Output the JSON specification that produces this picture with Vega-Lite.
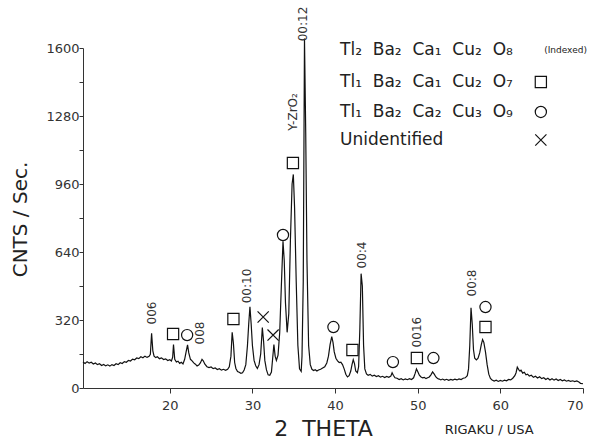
{
  "$schema": "https://vega.github.io/schema/vega-lite/v6.json",
  "width": 500,
  "height": 340,
  "autosize": {"type": "none"},
  "padding": {"left": 83, "top": 48, "right": 9, "bottom": 51},
  "background": "white",
  "config": {
    "view": {"stroke": null},
    "font": "DejaVu Sans",
    "axis": {
      "grid": false,
      "domainColor": "#333",
      "tickColor": "#333",
      "labelColor": "#333",
      "titleColor": "#222",
      "labelFont": "DejaVu Sans",
      "titleFont": "DejaVu Sans",
      "titleFontWeight": "normal",
      "labelFontSize": 13
    }
  },
  "datasets": {
    "trace": [
      {"t":9.5,"c":122},{"t":9.75,"c":115},{"t":10,"c":124},{"t":10.25,"c":117},{"t":10.5,"c":121},{"t":10.75,"c":113},{"t":11,"c":118},{"t":11.25,"c":110},{"t":11.5,"c":114},{"t":11.75,"c":106},{"t":12,"c":111},{"t":12.25,"c":104},{"t":12.5,"c":109},{"t":12.75,"c":103},{"t":13,"c":110},{"t":13.25,"c":106},{"t":13.5,"c":114},{"t":13.75,"c":110},{"t":14,"c":119},{"t":14.25,"c":115},{"t":14.5,"c":124},{"t":14.75,"c":121},{"t":15,"c":130},{"t":15.25,"c":127},{"t":15.5,"c":136},{"t":15.75,"c":133},{"t":16,"c":141},{"t":16.25,"c":138},{"t":16.5,"c":147},{"t":16.75,"c":142},{"t":17,"c":150},{"t":17.25,"c":144},{"t":17.5,"c":149},{"t":17.65,"c":158},{"t":17.8,"c":258},{"t":17.95,"c":175},{"t":18.1,"c":150},{"t":18.3,"c":143},{"t":18.5,"c":147},{"t":18.75,"c":138},{"t":19,"c":142},{"t":19.25,"c":134},{"t":19.5,"c":137},{"t":19.75,"c":129},{"t":20,"c":133},{"t":20.2,"c":127},{"t":20.35,"c":145},{"t":20.45,"c":205},{"t":20.6,"c":135},{"t":20.8,"c":122},{"t":21,"c":126},{"t":21.2,"c":116},{"t":21.4,"c":121},{"t":21.6,"c":113},{"t":21.8,"c":135},{"t":22,"c":175},{"t":22.15,"c":203},{"t":22.3,"c":165},{"t":22.5,"c":135},{"t":22.7,"c":128},{"t":22.9,"c":118},{"t":23.1,"c":112},{"t":23.3,"c":104},{"t":23.5,"c":108},{"t":23.7,"c":118},{"t":23.9,"c":135},{"t":24.05,"c":128},{"t":24.25,"c":112},{"t":24.5,"c":100},{"t":24.75,"c":96},{"t":25,"c":99},{"t":25.25,"c":91},{"t":25.5,"c":94},{"t":25.75,"c":87},{"t":26,"c":91},{"t":26.25,"c":84},{"t":26.5,"c":88},{"t":26.75,"c":83},{"t":27,"c":88},{"t":27.2,"c":100},{"t":27.4,"c":150},{"t":27.55,"c":262},{"t":27.7,"c":210},{"t":27.85,"c":120},{"t":28,"c":92},{"t":28.2,"c":78},{"t":28.4,"c":74},{"t":28.6,"c":69},{"t":28.8,"c":72},{"t":29,"c":85},{"t":29.2,"c":110},{"t":29.4,"c":200},{"t":29.55,"c":300},{"t":29.7,"c":382},{"t":29.85,"c":300},{"t":30,"c":200},{"t":30.2,"c":130},{"t":30.4,"c":105},{"t":30.6,"c":92},{"t":30.8,"c":110},{"t":31,"c":160},{"t":31.2,"c":284},{"t":31.35,"c":220},{"t":31.5,"c":130},{"t":31.7,"c":85},{"t":31.9,"c":62},{"t":32.1,"c":60},{"t":32.3,"c":75},{"t":32.45,"c":140},{"t":32.6,"c":204},{"t":32.75,"c":150},{"t":32.9,"c":130},{"t":33.1,"c":155},{"t":33.3,"c":260},{"t":33.5,"c":480},{"t":33.7,"c":690},{"t":33.85,"c":600},{"t":34,"c":400},{"t":34.2,"c":262},{"t":34.4,"c":350},{"t":34.6,"c":700},{"t":34.8,"c":960},{"t":34.95,"c":1005},{"t":35.1,"c":850},{"t":35.3,"c":500},{"t":35.5,"c":200},{"t":35.7,"c":90},{"t":35.9,"c":78},{"t":36,"c":150},{"t":36.15,"c":500},{"t":36.3,"c":1645},{"t":36.45,"c":1200},{"t":36.6,"c":600},{"t":36.8,"c":200},{"t":37,"c":110},{"t":37.2,"c":88},{"t":37.4,"c":82},{"t":37.6,"c":86},{"t":37.8,"c":80},{"t":38,"c":85},{"t":38.25,"c":88},{"t":38.5,"c":94},{"t":38.75,"c":100},{"t":39,"c":118},{"t":39.2,"c":150},{"t":39.4,"c":205},{"t":39.6,"c":242},{"t":39.75,"c":215},{"t":39.9,"c":170},{"t":40.1,"c":140},{"t":40.3,"c":128},{"t":40.5,"c":120},{"t":40.7,"c":122},{"t":40.9,"c":110},{"t":41.1,"c":90},{"t":41.3,"c":65},{"t":41.5,"c":52},{"t":41.7,"c":58},{"t":41.9,"c":80},{"t":42.05,"c":110},{"t":42.2,"c":133},{"t":42.35,"c":115},{"t":42.5,"c":80},{"t":42.7,"c":72},{"t":42.85,"c":100},{"t":43,"c":280},{"t":43.15,"c":538},{"t":43.3,"c":480},{"t":43.45,"c":200},{"t":43.6,"c":90},{"t":43.8,"c":66},{"t":44,"c":60},{"t":44.25,"c":64},{"t":44.5,"c":56},{"t":44.75,"c":60},{"t":45,"c":54},{"t":45.25,"c":58},{"t":45.5,"c":51},{"t":45.75,"c":55},{"t":46,"c":49},{"t":46.25,"c":54},{"t":46.5,"c":50},{"t":46.75,"c":56},{"t":46.9,"c":72},{"t":47.05,"c":60},{"t":47.25,"c":48},{"t":47.5,"c":46},{"t":47.75,"c":40},{"t":48,"c":44},{"t":48.25,"c":38},{"t":48.5,"c":43},{"t":48.75,"c":39},{"t":49,"c":44},{"t":49.25,"c":40},{"t":49.5,"c":48},{"t":49.7,"c":70},{"t":49.85,"c":90},{"t":50,"c":78},{"t":50.2,"c":60},{"t":50.4,"c":52},{"t":50.6,"c":48},{"t":50.8,"c":50},{"t":51,"c":44},{"t":51.2,"c":48},{"t":51.4,"c":52},{"t":51.6,"c":62},{"t":51.8,"c":76},{"t":52,"c":65},{"t":52.2,"c":52},{"t":52.4,"c":45},{"t":52.6,"c":42},{"t":52.8,"c":38},{"t":53,"c":42},{"t":53.25,"c":37},{"t":53.5,"c":41},{"t":53.75,"c":36},{"t":54,"c":40},{"t":54.25,"c":37},{"t":54.5,"c":42},{"t":54.75,"c":38},{"t":55,"c":43},{"t":55.25,"c":40},{"t":55.5,"c":46},{"t":55.75,"c":48},{"t":56,"c":58},{"t":56.15,"c":90},{"t":56.3,"c":200},{"t":56.45,"c":378},{"t":56.6,"c":300},{"t":56.75,"c":180},{"t":56.9,"c":140},{"t":57.1,"c":132},{"t":57.3,"c":140},{"t":57.5,"c":165},{"t":57.7,"c":205},{"t":57.85,"c":228},{"t":58,"c":215},{"t":58.2,"c":170},{"t":58.4,"c":110},{"t":58.6,"c":65},{"t":58.8,"c":45},{"t":59,"c":38},{"t":59.25,"c":33},{"t":59.5,"c":37},{"t":59.75,"c":31},{"t":60,"c":36},{"t":60.25,"c":32},{"t":60.5,"c":37},{"t":60.75,"c":34},{"t":61,"c":40},{"t":61.25,"c":38},{"t":61.5,"c":46},{"t":61.75,"c":58},{"t":61.9,"c":72},{"t":62.05,"c":98},{"t":62.2,"c":88},{"t":62.35,"c":80},{"t":62.5,"c":84},{"t":62.7,"c":70},{"t":62.9,"c":74},{"t":63.1,"c":62},{"t":63.3,"c":65},{"t":63.5,"c":56},{"t":63.75,"c":60},{"t":64,"c":50},{"t":64.25,"c":55},{"t":64.5,"c":47},{"t":64.75,"c":53},{"t":65,"c":44},{"t":65.25,"c":48},{"t":65.5,"c":40},{"t":65.75,"c":46},{"t":66,"c":38},{"t":66.25,"c":44},{"t":66.5,"c":37},{"t":66.75,"c":42},{"t":67,"c":35},{"t":67.25,"c":40},{"t":67.5,"c":34},{"t":67.75,"c":38},{"t":68,"c":32},{"t":68.25,"c":36},{"t":68.5,"c":31},{"t":68.75,"c":34},{"t":69,"c":30},{"t":69.25,"c":33},{"t":69.5,"c":28},{"t":69.7,"c":22},{"t":70,"c":20}
    ],
    "markers": [
      {"t":20.4,"c":254,"s":"square"},
      {"t":22.1,"c":249,"s":"circle"},
      {"t":27.7,"c":325,"s":"square"},
      {"t":31.3,"c":334,"s":"x"},
      {"t":32.5,"c":249,"s":"x"},
      {"t":33.7,"c":720,"s":"circle"},
      {"t":34.9,"c":1059,"s":"square"},
      {"t":39.8,"c":287,"s":"circle"},
      {"t":42.1,"c":179,"s":"square"},
      {"t":47.0,"c":122,"s":"circle"},
      {"t":49.9,"c":141,"s":"square"},
      {"t":51.9,"c":141,"s":"circle"},
      {"t":58.2,"c":381,"s":"circle"},
      {"t":58.2,"c":287,"s":"square"},
      {"t":64.9,"c":1440,"s":"square"},
      {"t":64.9,"c":1299,"s":"circle"},
      {"t":64.9,"c":1167,"s":"x"}
    ],
    "peaklabels": [
      {"t":17.8,"c":353,"txt":"006"},
      {"t":23.7,"c":259,"txt":"008"},
      {"t":29.4,"c":480,"txt":"00:10"},
      {"t":34.9,"c":1299,"txt":"Y-ZrO₂"},
      {"t":36.1,"c":1713,"txt":"00:12"},
      {"t":43.3,"c":626,"txt":"00:4"},
      {"t":49.9,"c":263,"txt":"0016"},
      {"t":56.6,"c":494,"txt":"00:8"}
    ],
    "legendtext": [
      {"t":40.6,"c":1591,"txt":"Tl₂\u00a0\u00a0Ba₂\u00a0\u00a0Ca₁\u00a0\u00a0Cu₂\u00a0\u00a0O₈"},
      {"t":40.6,"c":1440,"txt":"Tl₁\u00a0\u00a0Ba₂\u00a0\u00a0Ca₁\u00a0\u00a0Cu₂\u00a0\u00a0O₇"},
      {"t":40.6,"c":1299,"txt":"Tl₁\u00a0\u00a0Ba₂\u00a0\u00a0Ca₂\u00a0\u00a0Cu₃\u00a0\u00a0O₉"},
      {"t":40.6,"c":1167,"txt":"Unidentified"}
    ],
    "smalltext": [
      {"t":65.3,"c":1591,"txt":"(Indexed)"}
    ],
    "footer": [
      {"t":58.65,"c":-198,"txt":"RIGAKU / USA"}
    ]
  },
  "encoding": {
    "x": {
      "field": "t",
      "type": "quantitative",
      "scale": {"domain": [9.5, 70], "nice": false, "zero": false},
      "axis": {
        "values": [20, 30, 40, 50, 60, 70],
        "format": "d",
        "title": "2\u00a0\u00a0THETA",
        "titleFontSize": 22,
        "titleX": 240,
        "titleY": 40,
        "titleBaseline": "middle",
        "tickSize": 5,
        "labelPadding": 6
      }
    },
    "y": {
      "field": "c",
      "type": "quantitative",
      "scale": {"domain": [0, 1600], "nice": false, "zero": true},
      "axis": {
        "values": [0, 160, 320, 480, 640, 800, 960, 1120, 1280, 1440, 1600],
        "format": "d",
        "labelExpr": "datum.value % 320 === 0 ? datum.label : ''",
        "title": "CNTS / Sec.",
        "titleFontSize": 20,
        "titleX": -63,
        "titleY": 171,
        "titleBaseline": "middle",
        "tickSize": 4,
        "labelPadding": 0
      }
    }
  },
  "layer": [
    {
      "data": {"name": "trace"},
      "mark": {"type": "line", "color": "#111", "strokeWidth": 1.2, "clip": false}
    },
    {
      "data": {"name": "markers"},
      "mark": {"type": "point", "filled": false, "stroke": "#111", "strokeWidth": 1.2, "size": 125, "opacity": 1},
      "encoding": {
        "shape": {
          "field": "s",
          "type": "nominal",
          "scale": {"domain": ["square", "circle", "x"], "range": ["square", "circle", "M-1,-1L1,1M1,-1L-1,1"]},
          "legend": null
        }
      }
    },
    {
      "data": {"name": "peaklabels"},
      "mark": {"type": "text", "angle": 270, "fontSize": 12, "color": "#333", "align": "center", "baseline": "middle"},
      "encoding": {"text": {"field": "txt"}}
    },
    {
      "data": {"name": "legendtext"},
      "mark": {"type": "text", "fontSize": 17, "color": "#222", "align": "left", "baseline": "middle"},
      "encoding": {"text": {"field": "txt"}}
    },
    {
      "data": {"name": "smalltext"},
      "mark": {"type": "text", "fontSize": 9, "color": "#222", "align": "left", "baseline": "middle"},
      "encoding": {"text": {"field": "txt"}}
    },
    {
      "data": {"name": "footer"},
      "mark": {"type": "text", "fontSize": 13, "color": "#222", "align": "center", "baseline": "middle"},
      "encoding": {"text": {"field": "txt"}}
    }
  ]
}
